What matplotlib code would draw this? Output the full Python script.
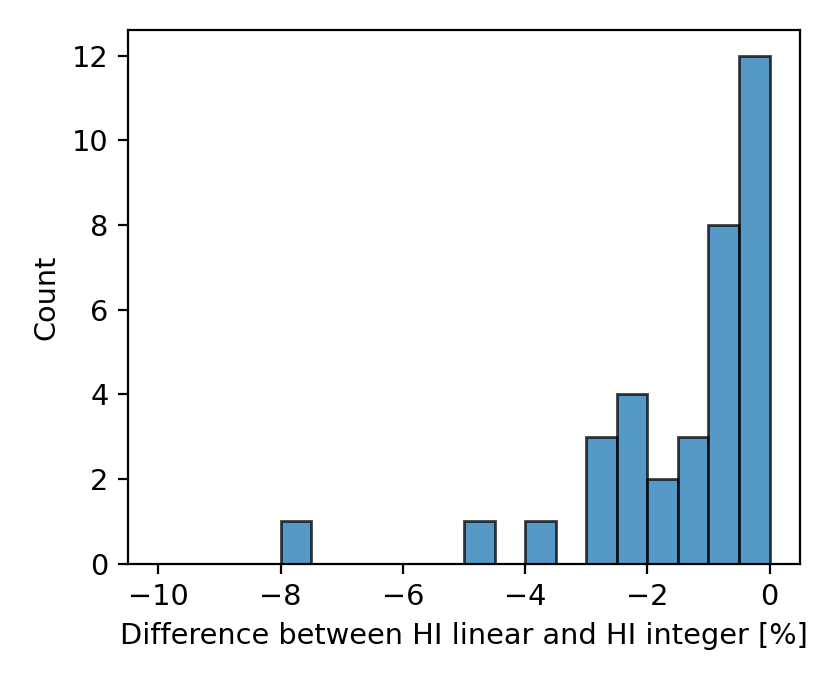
import matplotlib
matplotlib.use("Agg")
import matplotlib.pyplot as plt
import numpy as np

bin_left = [-10.0, -9.5, -9.0, -8.5, -8.0, -7.5, -7.0, -6.5, -6.0, -5.5,
            -5.0, -4.5, -4.0, -3.5, -3.0, -2.5, -2.0, -1.5, -1.0, -0.5]
counts = [0, 0, 0, 0, 1, 0, 0, 0, 0, 0,
          1, 0, 1, 0, 3, 4, 2, 3, 8, 12]
bin_width = 0.5

plt.rcParams['font.size'] = 10.35

fig = plt.figure(figsize=(4.15, 3.425), dpi=200)
ax = fig.add_axes([0.154, 0.177, 0.810, 0.779])
ax.bar(bin_left, counts, width=bin_width, align='edge',
       color='#1f77b4', alpha=0.75, edgecolor='black', linewidth=1.0)
ax.set_xlim(-10.5, 0.5)
ax.set_ylim(0, 12.6)
ax.set_xticks([-10, -8, -6, -4, -2, 0])
ax.set_yticks([0, 2, 4, 6, 8, 10, 12])
ax.set_xlabel('Difference between HI linear and HI integer [%]')
ax.set_ylabel('Count')
fig.savefig('out.png', dpi=200)
